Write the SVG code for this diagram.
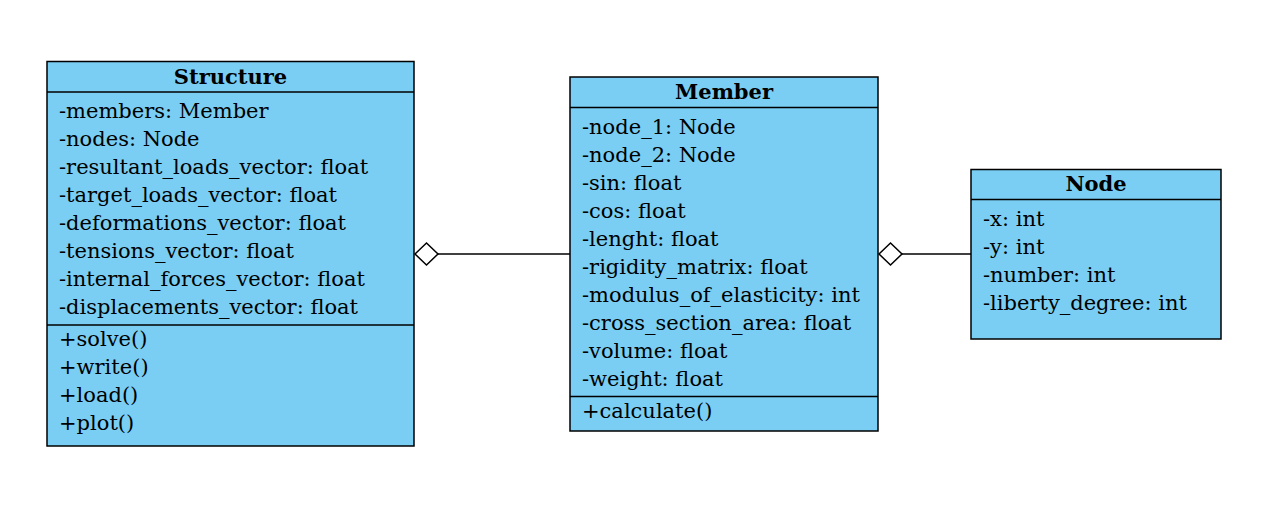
<svg xmlns="http://www.w3.org/2000/svg" width="1277" height="524" viewBox="0 0 1277 524">
<style>
.box{fill:#7ACEF4;stroke:#000;stroke-width:1.5}
.ln{stroke:#000;stroke-width:1.5;fill:none}
text{font-family:"DejaVu Serif",serif;font-size:21px;fill:#000}
.t{font-weight:bold;text-anchor:middle}
.dia{fill:#fff;stroke:#000;stroke-width:1.5}
</style>
<rect width="1277" height="524" fill="#fff"/>
<g id="connectors">
<line class="ln" x1="438" y1="254" x2="570" y2="254"/>
<polygon class="dia" points="415,254 426.5,243 438,254 426.5,265"/>
<line class="ln" x1="902" y1="254" x2="971" y2="254"/>
<polygon class="dia" points="879,254 890.5,243 902,254 890.5,265"/>
</g>
<g id="Structure">
<rect class="box" x="47" y="61.5" width="367" height="384.5"/>
<line class="ln" x1="47" y1="92" x2="414" y2="92"/>
<line class="ln" x1="47" y1="325" x2="414" y2="325"/>
<text class="t" x="230.5" y="84">Structure</text>
<text x="59" y="118">-members: Member</text>
<text x="59" y="146">-nodes: Node</text>
<text x="59" y="174">-resultant_loads_vector: float</text>
<text x="59" y="202">-target_loads_vector: float</text>
<text x="59" y="230">-deformations_vector: float</text>
<text x="59" y="258">-tensions_vector: float</text>
<text x="59" y="286">-internal_forces_vector: float</text>
<text x="59" y="314">-displacements_vector: float</text>
<text x="59" y="346">+solve()</text>
<text x="59" y="374">+write()</text>
<text x="59" y="402">+load()</text>
<text x="59" y="430">+plot()</text>
</g>
<g id="Member">
<rect class="box" x="570" y="77" width="308" height="354"/>
<line class="ln" x1="570" y1="107.5" x2="878" y2="107.5"/>
<line class="ln" x1="570" y1="396.5" x2="878" y2="396.5"/>
<text class="t" x="724" y="99">Member</text>
<text x="582" y="134">-node_1: Node</text>
<text x="582" y="162">-node_2: Node</text>
<text x="582" y="190">-sin: float</text>
<text x="582" y="218">-cos: float</text>
<text x="582" y="246">-lenght: float</text>
<text x="582" y="274">-rigidity_matrix: float</text>
<text x="582" y="302">-modulus_of_elasticity: int</text>
<text x="582" y="330">-cross_section_area: float</text>
<text x="582" y="358">-volume: float</text>
<text x="582" y="386">-weight: float</text>
<text x="582" y="418">+calculate()</text>
</g>
<g id="Node">
<rect class="box" x="971" y="169.5" width="250" height="169.5"/>
<line class="ln" x1="971" y1="199.5" x2="1221" y2="199.5"/>
<text class="t" x="1096" y="191">Node</text>
<text x="983" y="226">-x: int</text>
<text x="983" y="254">-y: int</text>
<text x="983" y="282">-number: int</text>
<text x="983" y="310">-liberty_degree: int</text>
</g>
</svg>
